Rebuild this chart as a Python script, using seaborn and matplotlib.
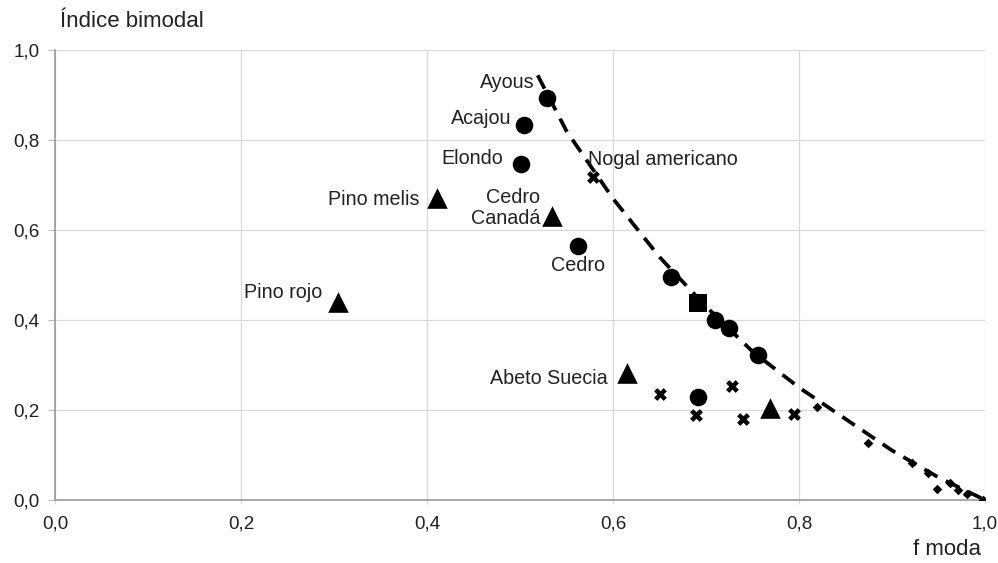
import pandas as pd
import matplotlib
matplotlib.use("Agg")
import matplotlib.pyplot as plt
import seaborn as sns

# curve (dashed line)
curve_x = [0.519, 0.55, 0.60, 0.65, 0.70, 0.75, 0.80, 0.85, 0.90, 0.95, 1.0]
curve_y = [0.944, 0.82, 0.67, 0.54, 0.43, 0.33, 0.25, 0.18, 0.11, 0.05, 0.0]

# small dots along the tail
dot_x = [0.819, 0.874, 0.922, 0.939, 0.948, 0.962, 0.971, 0.981, 0.998]
dot_y = [0.207, 0.127, 0.082, 0.060, 0.024, 0.038, 0.022, 0.013, 0.0]

circ_x = [0.529, 0.504, 0.501, 0.562, 0.662, 0.710, 0.725, 0.756, 0.691]
circ_y = [0.893, 0.833, 0.747, 0.564, 0.496, 0.400, 0.382, 0.322, 0.229]

sq_x = [0.691]
sq_y = [0.438]

tri_x = [0.411, 0.534, 0.304, 0.615, 0.769]
tri_y = [0.672, 0.632, 0.441, 0.283, 0.205]

cross_x = [0.578, 0.651, 0.689, 0.728, 0.740, 0.795]
cross_y = [0.718, 0.236, 0.189, 0.253, 0.180, 0.191]

labels = ["Ayous", "Acajou", "Elondo", "Nogal americano", "Pino melis",
          "Cedro\nCanadá", "Cedro", "Pino rojo", "Abeto Suecia"]
label_x = [0.516, 0.491, 0.482, 0.573, 0.392, 0.522, 0.562, 0.287, 0.594]
label_y = [0.929, 0.847, 0.758, 0.756, 0.669, 0.649, 0.522, 0.462, 0.271]
label_ha = ["right", "right", "right", "left", "right", "right", "center", "right", "right"]

ticks = [0.0, 0.2, 0.4, 0.6, 0.8, 1.0]
tick_labels = ["0,0", "0,2", "0,4", "0,6", "0,8", "1,0"]

sns.set_style("white")
plt.rcParams['font.family'] = ['Liberation Sans', 'DejaVu Sans']

fig = plt.figure(figsize=(9.98, 5.63), dpi=100)
ax = fig.add_axes([0.0551, 0.112, 0.9319, 0.799])

sns.lineplot(x=curve_x, y=curve_y, ax=ax, color="black", linewidth=2.7,
             linestyle=(0, (4, 2.5)), zorder=2)
sns.scatterplot(x=dot_x, y=dot_y, ax=ax, marker="D", s=24, color="black",
                edgecolor="black", linewidth=0, zorder=3)
sns.scatterplot(x=circ_x, y=circ_y, ax=ax, marker="o", s=160, color="black",
                edgecolor="black", linewidth=0, zorder=4)
sns.scatterplot(x=sq_x, y=sq_y, ax=ax, marker="s", s=165, color="black",
                edgecolor="black", linewidth=0, zorder=4)
sns.scatterplot(x=tri_x, y=tri_y, ax=ax, marker="^", s=220, color="black",
                edgecolor="black", linewidth=0, zorder=4)
sns.scatterplot(x=cross_x, y=cross_y, ax=ax, marker="X", s=85, color="black",
                edgecolor="black", linewidth=0, zorder=4)

for t, x, y, ha in zip(labels, label_x, label_y, label_ha):
    ax.text(x, y, t, ha=ha, va="center", fontsize=14.2, color="#222222",
            linespacing=1.15, zorder=5)

ax.set_xlim(0, 1)
ax.set_ylim(0, 1)
ax.set_xticks(ticks)
ax.set_xticklabels(tick_labels)
ax.set_yticks(ticks)
ax.set_yticklabels(tick_labels)
ax.grid(True, color="#d9d9d9", linewidth=0.9)
ax.set_axisbelow(True)
for s in ["top", "right"]:
    ax.spines[s].set_visible(False)
for s in ["left", "bottom"]:
    ax.spines[s].set_color("#999999")
    ax.spines[s].set_linewidth(1.2)
ax.tick_params(axis="y", left=True, length=5, color="#bbbbbb", labelsize=13.6,
               labelcolor="#222222", pad=6)
ax.tick_params(axis="x", bottom=True, length=3, color="#d9d9d9", labelsize=13.6,
               labelcolor="#222222", pad=8)
ax.set_xlabel("")
ax.set_ylabel("")
fig.text(0.06, 0.961, "Índice bimodal", fontsize=16, color="#222222", va="center")
fig.text(0.949, 0.024, "f moda", fontsize=16, color="#222222", va="center", ha="center")

fig.savefig("out.png", dpi=100)
